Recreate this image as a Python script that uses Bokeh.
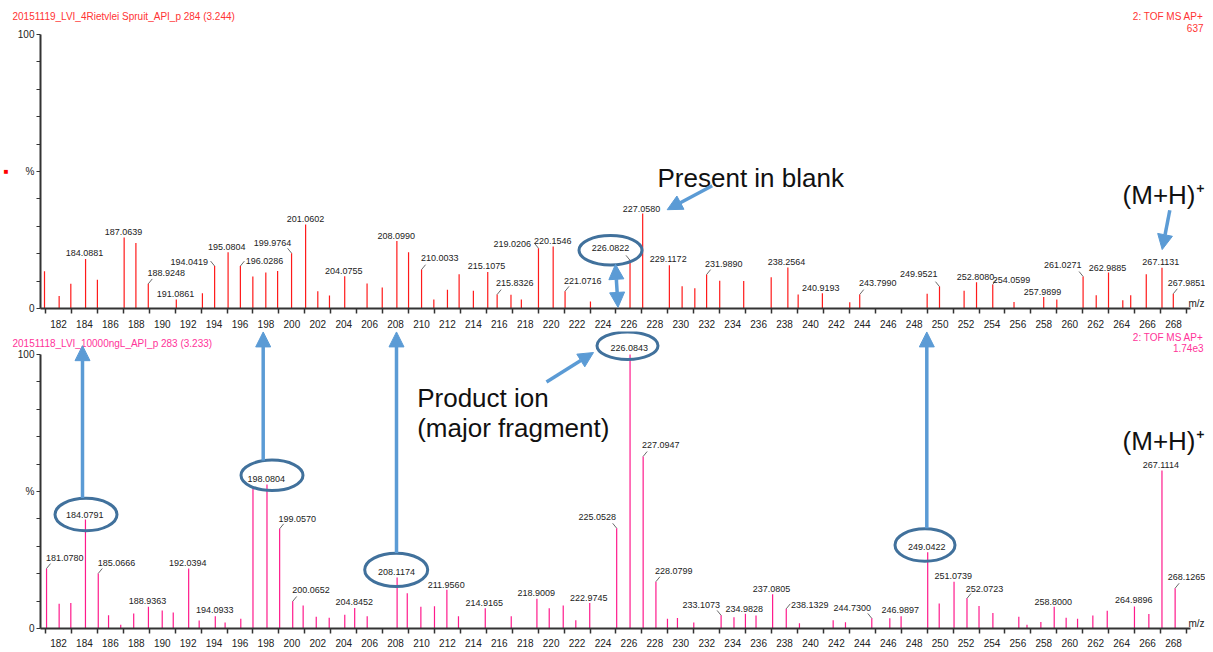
import math
import numpy as np
from bokeh.plotting import figure
from bokeh.layouts import column
from bokeh.models import (ColumnDataSource, FixedTicker, Label, Arrow, NormalHead, Range1d,
                          LinearAxis, Title)
from bokeh.core.properties import value
from bokeh.embed import file_html
from bokeh.resources import INLINE

# ---------------- data ----------------
top_title = "20151119_LVI_4Rietvlei Spruit_API_p 284 (3.244)"
top_scan = "2: TOF MS AP+"
top_max = "637"
bot_title = "20151118_LVI_10000ngL_API_p 283 (3.233)"
bot_scan = "2: TOF MS AP+"
bot_max = "1.74e3"

top_mz = [180.92, 182.05, 182.95, 184.0881, 185.0, 187.0639, 187.97, 188.9248, 191.0861, 193.1,
          194.0419, 195.0804, 196.0286, 196.99, 197.99, 198.9, 199.9764, 201.0602, 202.0, 202.9,
          204.0755, 205.8, 206.97, 208.0990, 209.0, 210.0033, 210.95, 212.0, 212.9, 214.0,
          215.1075, 215.8326, 216.9, 217.7, 219.0206, 220.1546, 221.0716, 223.03, 226.0822, 227.0580,
          229.1172, 230.1, 231.08, 231.9890, 233.0, 234.85, 236.97, 238.2564, 239.05, 240.9193,
          243.03, 243.7990, 249.0, 249.9521, 251.85, 252.8080, 254.0599, 255.7, 257.9899, 259.0,
          261.0271, 262.04, 262.9885, 264.09, 264.7, 265.9, 267.1131, 267.9851]
top_int = [13.6, 4.6, 9.0, 18.1, 10.5, 25.9, 23.9, 9.0, 3.3, 5.6,
           15.5, 20.5, 15.5, 11.7, 13.1, 13.7, 20.2, 30.7, 6.3, 4.7,
           11.8, 9.1, 7.7, 24.6, 20.5, 14.2, 3.3, 6.8, 12.5, 6.5,
           13.3, 5.1, 5.0, 3.3, 22.0, 22.6, 6.3, 2.6, 17.6, 34.7,
           15.8, 8.1, 7.4, 12.4, 10.1, 10.0, 11.4, 15.0, 5.1, 5.6,
           2.3, 5.1, 5.4, 8.0, 6.5, 9.6, 8.8, 2.4, 4.2, 3.3,
           11.7, 4.8, 13.1, 3.0, 4.8, 12.5, 14.9, 5.4]

bot_mz = [181.0780, 182.05, 182.95, 184.0791, 185.0666, 185.86, 186.8, 187.8, 188.9363, 190.0,
          190.85, 192.0394, 192.85, 194.0933, 194.85, 196.06, 197.0, 198.0804, 199.0570, 200.0652,
          200.87, 201.88, 202.88, 204.08, 204.8452, 205.81, 208.1174, 208.9, 209.95, 211.0,
          211.9560, 212.85, 214.9165, 216.92, 218.9009, 219.85, 220.93, 221.9, 222.9745, 225.0528,
          226.0843, 227.0947, 228.0799, 228.97, 229.74, 231.0, 233.1073, 234.1, 234.9828, 235.8,
          237.0805, 238.1329, 239.15, 241.75, 242.7, 244.7300, 246.12, 246.9897, 249.0422, 249.93,
          251.0739, 252.0723, 253.0, 254.07, 256.07, 256.7, 257.77, 258.8000, 259.72, 260.6,
          261.78, 262.89, 264.9896, 266.1, 267.1114, 268.1265]
bot_int = [21.9, 9.0, 9.3, 39.8, 20.1, 4.8, 1.4, 5.5, 7.9, 6.6,
           5.8, 21.9, 2.9, 4.5, 2.2, 3.6, 50.9, 52.6, 36.4, 9.9,
           8.4, 4.3, 3.9, 5.0, 7.5, 4.5, 18.6, 12.9, 7.9, 8.1,
           14.1, 4.5, 7.4, 4.5, 10.9, 7.4, 8.4, 3.0, 9.3, 36.6,
           100.0, 62.8, 17.1, 3.6, 3.8, 2.2, 4.8, 4.1, 5.4, 4.7,
           12.5, 7.2, 1.9, 3.0, 2.3, 3.7, 3.7, 4.5, 27.8, 9.1,
           17.1, 11.0, 8.2, 5.7, 4.3, 1.4, 2.4, 7.9, 3.9, 3.6,
           4.7, 6.5, 8.0, 5.3, 57.7, 14.7]

top_labels = ["184.0881", "187.0639", "188.9248", "191.0861", "194.0419", "195.0804", "196.0286",
              "199.9764", "201.0602", "204.0755", "208.0990", "210.0033", "215.1075", "215.8326",
              "219.0206", "220.1546", "221.0716", "226.0822", "227.0580", "229.1172", "231.9890",
              "238.2564", "240.9193", "243.7990", "249.9521", "252.8080", "254.0599", "257.9899",
              "261.0271", "262.9885", "267.1131", "267.9851"]
bot_labels = ["181.0780", "184.0791", "185.0666", "188.9363", "192.0394", "194.0933", "198.0804",
              "199.0570", "200.0652", "204.8452", "208.1174", "211.9560", "214.9165", "218.9009",
              "222.9745", "225.0528", "226.0843", "227.0947", "228.0799", "233.1073", "234.9828",
              "237.0805", "238.1329", "244.7300", "246.9897", "249.0422", "251.0739", "252.0723",
              "258.8000", "264.9896", "267.1114", "268.1265"]

x_tick_labels = list(range(182, 270, 2))
x_tick_marks = list(range(181, 270, 2))

# ---------------- layout (reference pixel positions) ----------------
PXU = 12.965
def X(px): return 182 + (px - 58) / PXU
def TY(py): return (313.3 - py) / 2.79
def BY(py): return (636.0 - py) / 2.79
def W(px): return px / PXU
def H(px): return px / 2.79

top_label_pos = [(84, 256.7), (123, 235), (165.7, 277.3), (175, 298.7), (188.7, 265.7), (226.3, 250.3),
                 (264, 265), (272, 246.3), (305, 222.3), (343.3, 275.3), (395.7, 239), (439.3, 261.7),
                 (486, 270.3), (514.3, 287), (511.7, 247.3), (552.3, 244.7), (582.3, 285.3), (610, 252),
                 (641, 211.7), (667.7, 263.3), (723.3, 267.7), (786, 266), (820.3, 292.3), (877.3, 287.7),
                 (918.3, 278.3), (975, 281.7), (1011, 284), (1042, 296), (1062.3, 269.3), (1107, 271.7),
                 (1160.3, 266), (1186, 287.3)]
bot_label_pos = [(64.3, 564), (84.3, 520), (116, 569.3), (147, 607.7), (187.3, 569), (214.3, 617.3),
                 (265.7, 484), (296.7, 524), (310.5, 597), (353.7, 609.3), (396, 578.3), (445.7, 591.7),
                 (483.7, 610), (535.7, 600), (588.3, 605), (596.7, 522.7), (628.7, 350), (660.3, 449.3),
                 (673.3, 577.7), (700.7, 611.7), (743.7, 615.7), (771, 595.7), (809.3, 611.7), (851.7, 615.3),
                 (899.7, 617.3), (926.3, 552.7), (952.7, 582.7), (984, 595.3), (1052.7, 608.7),
                 (1133.3, 607.3), (1160.3, 470), (1186, 583.3)]

FONT = "Liberation Sans"
LEFT = 32            # left border (px)
FW = 1165            # frame width (px)
X0, X1 = X(40), X(1205)
SCALE = 2.74         # px per percent on screen
AXC = "#333333"
ARROW_C = "#5b9bd5"
ELL_C = "#41719c"


def make_fig(frame_h, label_standoff, square_color):
    p = figure(frame_width=FW, frame_height=frame_h, x_range=Range1d(X0, X1),
               y_range=Range1d(0, frame_h / SCALE), output_backend="svg", toolbar_location=None,
               min_border_left=LEFT, min_border_right=0, min_border_top=1,
               min_border_bottom=0, background_fill_color="white", border_fill_color="white")
    p.outline_line_color = None
    p.grid.visible = False
    xa = p.xaxis[0]
    xa.ticker = FixedTicker(ticks=x_tick_labels, minor_ticks=x_tick_marks)
    xa.bounds = (X0, 269.3)
    xa.major_tick_out = 0
    xa.major_tick_in = 0
    xa.minor_tick_out = 5
    xa.minor_tick_in = 0
    xa.axis_line_width = 2
    xa.axis_line_color = AXC
    xa.minor_tick_line_color = AXC
    xa.minor_tick_line_width = 1.5
    xa.major_label_text_font = FONT
    xa.major_label_text_font_size = "10px"
    xa.major_label_text_color = "#222222"
    xa.major_label_standoff = label_standoff
    ya = p.yaxis[0]
    ya.ticker = FixedTicker(ticks=[0, 50, 100], minor_ticks=[10, 20, 30, 40, 60, 70, 80, 90])
    ya.major_label_overrides = {50: "%"}
    ya.bounds = (0, 100)
    ya.major_tick_out = 4
    ya.major_tick_in = 0
    ya.minor_tick_out = 4
    ya.minor_tick_in = 0
    ya.axis_line_width = 2
    ya.axis_line_color = AXC
    ya.major_tick_line_color = AXC
    ya.minor_tick_line_color = AXC
    ya.major_label_text_font = FONT
    ya.major_label_text_font_size = "10px"
    ya.major_label_text_color = "#222222"
    ya.major_label_standoff = 2
    # outer marker axis (keeps both panels' geometry identical)
    sq_axis = LinearAxis(ticker=FixedTicker(ticks=[50]), major_label_overrides={50: "\u25A0"},
                         axis_line_color=None, major_tick_line_color=None,
                         minor_tick_line_color=None, major_label_text_color=square_color,
                         major_label_text_font_size="8px", major_label_standoff=0)
    p.add_layout(sq_axis, "left")
    p.add_layout(Label(x=X(1188), y=0, text="m/z", text_font=FONT, text_font_size="10px",
                       text_align="left", text_baseline="bottom", text_color="#222222"))
    return p


def add_title(p, text, color, standoff):
    t = Title(text=text, align="left", offset=-28, standoff=standoff, vertical_align="bottom",
              text_font=FONT, text_font_size="10px", text_font_style="normal", text_color=color)
    p.add_layout(t, "above")


def draw_spectrum(p, mz, inten, labels, label_pos, yconv, color):
    src = ColumnDataSource(dict(mz=mz, inten=inten))
    p.segment(x0="mz", y0=0, x1="mz", y1="inten", source=src, line_color=color, line_width=1.2)
    mz_a = np.array(mz)
    lx, ly, lt = [], [], []
    sx0, sy0, sx1, sy1 = [], [], [], []
    for t, (px, py) in zip(labels, label_pos):
        i = int(np.argmin(np.abs(mz_a - float(t))))
        lx.append(X(px))
        ly.append(yconv(py))
        lt.append(t)
        dpx = (X(px) - mz[i]) * PXU
        if abs(dpx) > 8:
            s = 1 if dpx > 0 else -1
            sx0.append(mz[i]); sy0.append(inten[i])
            sx1.append(mz[i] + s * W(4)); sy1.append(inten[i] + H(5))
    p.segment(x0=sx0, y0=sy0, x1=sx1, y1=sy1, line_color="#444444", line_width=0.8)
    p.text(x=lx, y=ly, text=lt, text_font=value(FONT), text_font_size="9px",
           text_color="#222222", text_align="center", text_baseline="middle")


def small_label(p, x, y, text, color, align):
    p.add_layout(Label(x=x, y=y, text=text, text_font=FONT, text_font_size="10px",
                       text_align=align, text_baseline="middle", text_color=color))


def big_label(p, x, y, text, align="left"):
    p.add_layout(Label(x=x, y=y, text=text, text_font=FONT, text_font_size="26px",
                       text_align=align, text_baseline="middle", text_color="#111111"))


def arrow(p, x0, y0, x1, y1, both=False):
    head = dict(size=15, fill_color=ARROW_C, line_color=ARROW_C, line_width=1)
    a = Arrow(end=NormalHead(**head), x_start=x0, y_start=y0, x_end=x1, y_end=y1,
              line_color=ARROW_C, line_width=3.5)
    if both:
        a.start = NormalHead(**head)
    p.add_layout(a)


# ---------------- top panel ----------------
pt = make_fig(307, 6, "#ff0000")
add_title(pt, top_title, "#ff3333", -40)
draw_spectrum(pt, top_mz, top_int, top_labels, top_label_pos, TY, "#ff1a1a")
small_label(pt, X(1203), TY(16), top_scan, "#ff3333", "right")
small_label(pt, X(1203), TY(27.5), top_max, "#ff3333", "right")
pt.ellipse(x=X(610), y=TY(254), width=W(63), height=H(30), fill_color=None,
           line_color=ELL_C, line_width=3)
big_label(pt, X(657), TY(180), "Present in blank")
big_label(pt, X(1204), TY(198), "(M+H)\u207A", align="right")
arrow(pt, X(711.7), TY(188.3), X(666.7), TY(212.7))
arrow(pt, X(1169.3), TY(213.3), X(1161.7), TY(253.3))
arrow(pt, X(615), TY(268.3), X(617.5), 0.4, both=True)

# ---------------- bottom panel ----------------
pb = make_fig(297, 5, "#ffffff")
add_title(pb, bot_title, "#ff3399", -34)
draw_spectrum(pb, bot_mz, bot_int, bot_labels, bot_label_pos, BY, "#ff1a8c")
small_label(pb, X(1203), BY(339.5), bot_scan, "#ff3399", "right")
small_label(pb, X(1203), BY(350.5), bot_max, "#ff3399", "right")
for cx, cy, w, h in [(627, 348, 61, 28), (85.5, 520, 62, 33), (271.5, 480, 62, 31),
                     (395.7, 576.3, 63, 34), (924.5, 551, 60, 33)]:
    pb.ellipse(x=X(cx), y=BY(cy), width=W(w), height=H(h), fill_color=None,
               line_color=ELL_C, line_width=3)
big_label(pb, X(416.7), BY(401.7), "Product ion")
big_label(pb, X(416.7), BY(431.7), "(major fragment)")
big_label(pb, X(1204), BY(445), "(M+H)\u207A", align="right")
arrow(pb, X(82), BY(503), X(82), BY(348))
arrow(pb, X(262.7), BY(465), X(262.7), BY(334))
arrow(pb, X(396), BY(559), X(396), BY(334))
arrow(pb, X(926.3), BY(534), X(926.3), BY(334))
arrow(pb, X(546), BY(385), X(593), BY(355))

layout = column(pt, pb, spacing=0)
open("out.html", "w").write(file_html(layout, INLINE))
